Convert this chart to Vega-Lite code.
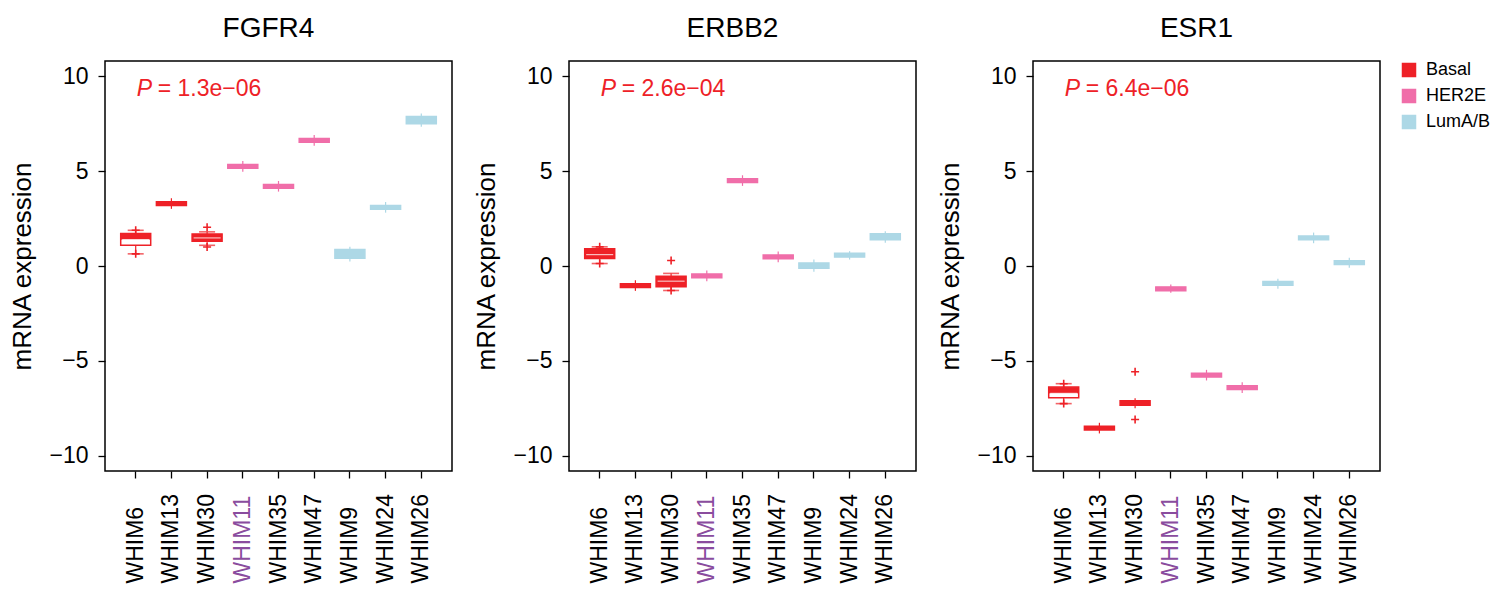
{
  "$schema": "https://vega.github.io/schema/vega-lite/v6.json",
  "padding": {"left": 9, "top": 14, "right": 5, "bottom": 5},
  "spacing": 20,
  "config": {
    "font": "Liberation Sans",
    "view": {"stroke": "black", "strokeWidth": 1.5},
    "axis": {"labelFont": "Liberation Sans", "titleFont": "Liberation Sans", "labelColor": "black", "titleColor": "black", "tickColor": "black", "tickWidth": 1.3, "domain": false, "grid": false},
    "title": {"fontSize": 28, "fontWeight": "normal", "font": "Liberation Sans", "offset": 18, "dx": -10, "baseline": "alphabetic", "color": "black"}
  },
  "datasets": {
    "boxes": [
      {"gene": "FGFR4", "sample": "WHIM6", "subtype": "Basal", "lo": 0.64, "q1": 1.09, "med": 1.39, "q3": 1.71, "hi": 1.88, "f1": 1.39, "f2": 1.71},
      {"gene": "FGFR4", "sample": "WHIM13", "subtype": "Basal", "lo": 3.01, "q1": 3.19, "med": 3.29, "q3": 3.39, "hi": 3.57, "f1": 3.19, "f2": 3.39},
      {"gene": "FGFR4", "sample": "WHIM30", "subtype": "Basal", "lo": 1.09, "q1": 1.31, "med": 1.48, "q3": 1.69, "hi": 1.8, "f1": 1.31, "f2": 1.69},
      {"gene": "FGFR4", "sample": "WHIM11", "subtype": "HER2E", "lo": 4.97, "q1": 5.15, "med": 5.25, "q3": 5.35, "hi": 5.53, "f1": 5.15, "f2": 5.35},
      {"gene": "FGFR4", "sample": "WHIM35", "subtype": "HER2E", "lo": 3.92, "q1": 4.1, "med": 4.2, "q3": 4.3, "hi": 4.48, "f1": 4.1, "f2": 4.3},
      {"gene": "FGFR4", "sample": "WHIM47", "subtype": "HER2E", "lo": 6.34, "q1": 6.52, "med": 6.62, "q3": 6.72, "hi": 6.9, "f1": 6.52, "f2": 6.72},
      {"gene": "FGFR4", "sample": "WHIM9", "subtype": "LumA/B", "lo": 0.24, "q1": 0.41, "med": 0.64, "q3": 0.87, "hi": 1.01, "f1": 0.41, "f2": 0.87},
      {"gene": "FGFR4", "sample": "WHIM24", "subtype": "LumA/B", "lo": 2.81, "q1": 2.99, "med": 3.09, "q3": 3.19, "hi": 3.37, "f1": 2.99, "f2": 3.19},
      {"gene": "FGFR4", "sample": "WHIM26", "subtype": "LumA/B", "lo": 7.33, "q1": 7.5, "med": 7.67, "q3": 7.88, "hi": 8.03, "f1": 7.5, "f2": 7.88},
      {"gene": "ERBB2", "sample": "WHIM6", "subtype": "Basal", "lo": 0.13, "q1": 0.39, "med": 0.6, "q3": 0.91, "hi": 1.01, "f1": 0.39, "f2": 0.91},
      {"gene": "ERBB2", "sample": "WHIM13", "subtype": "Basal", "lo": -1.31, "q1": -1.13, "med": -1.03, "q3": -0.93, "hi": -0.75, "f1": -1.13, "f2": -0.93},
      {"gene": "ERBB2", "sample": "WHIM30", "subtype": "Basal", "lo": -1.29, "q1": -1.09, "med": -0.8, "q3": -0.54, "hi": -0.39, "f1": -1.09, "f2": -0.54},
      {"gene": "ERBB2", "sample": "WHIM11", "subtype": "HER2E", "lo": -0.8, "q1": -0.62, "med": -0.52, "q3": -0.42, "hi": -0.24, "f1": -0.62, "f2": -0.42},
      {"gene": "ERBB2", "sample": "WHIM35", "subtype": "HER2E", "lo": 4.22, "q1": 4.4, "med": 4.5, "q3": 4.6, "hi": 4.78, "f1": 4.4, "f2": 4.6},
      {"gene": "ERBB2", "sample": "WHIM47", "subtype": "HER2E", "lo": 0.2, "q1": 0.38, "med": 0.48, "q3": 0.58, "hi": 0.76, "f1": 0.38, "f2": 0.58},
      {"gene": "ERBB2", "sample": "WHIM9", "subtype": "LumA/B", "lo": -0.3, "q1": -0.12, "med": 0.03, "q3": 0.16, "hi": 0.34, "f1": -0.12, "f2": 0.16},
      {"gene": "ERBB2", "sample": "WHIM24", "subtype": "LumA/B", "lo": 0.34, "q1": 0.47, "med": 0.57, "q3": 0.67, "hi": 0.78, "f1": 0.47, "f2": 0.67},
      {"gene": "ERBB2", "sample": "WHIM26", "subtype": "LumA/B", "lo": 1.22, "q1": 1.38, "med": 1.54, "q3": 1.7, "hi": 1.83, "f1": 1.38, "f2": 1.7},
      {"gene": "ESR1", "sample": "WHIM6", "subtype": "Basal", "lo": -7.25, "q1": -6.94, "med": -6.71, "q3": -6.38, "hi": -6.2, "f1": -6.71, "f2": -6.38},
      {"gene": "ESR1", "sample": "WHIM13", "subtype": "Basal", "lo": -8.82, "q1": -8.64, "med": -8.54, "q3": -8.44, "hi": -8.26, "f1": -8.64, "f2": -8.44},
      {"gene": "ESR1", "sample": "WHIM30", "subtype": "Basal", "lo": -7.5, "q1": -7.34, "med": -7.22, "q3": -7.1, "hi": -6.97, "f1": -7.34, "f2": -7.1},
      {"gene": "ESR1", "sample": "WHIM11", "subtype": "HER2E", "lo": -1.41, "q1": -1.3, "med": -1.2, "q3": -1.1, "hi": -0.97, "f1": -1.3, "f2": -1.1},
      {"gene": "ESR1", "sample": "WHIM35", "subtype": "HER2E", "lo": -6.03, "q1": -5.85, "med": -5.75, "q3": -5.65, "hi": -5.47, "f1": -5.85, "f2": -5.65},
      {"gene": "ESR1", "sample": "WHIM47", "subtype": "HER2E", "lo": -6.69, "q1": -6.51, "med": -6.41, "q3": -6.31, "hi": -6.13, "f1": -6.51, "f2": -6.31},
      {"gene": "ESR1", "sample": "WHIM9", "subtype": "LumA/B", "lo": -1.2, "q1": -1.02, "med": -0.92, "q3": -0.82, "hi": -0.67, "f1": -1.02, "f2": -0.82},
      {"gene": "ESR1", "sample": "WHIM24", "subtype": "LumA/B", "lo": 1.2, "q1": 1.38, "med": 1.48, "q3": 1.58, "hi": 1.76, "f1": 1.38, "f2": 1.58},
      {"gene": "ESR1", "sample": "WHIM26", "subtype": "LumA/B", "lo": -0.09, "q1": 0.08, "med": 0.18, "q3": 0.28, "hi": 0.43, "f1": 0.08, "f2": 0.28}
    ],
    "outliers": [
      {"gene": "FGFR4", "sample": "WHIM6", "subtype": "Basal", "value": 0.64},
      {"gene": "FGFR4", "sample": "WHIM6", "subtype": "Basal", "value": 1.88},
      {"gene": "FGFR4", "sample": "WHIM30", "subtype": "Basal", "value": 2.04},
      {"gene": "FGFR4", "sample": "WHIM30", "subtype": "Basal", "value": 1.0},
      {"gene": "ERBB2", "sample": "WHIM6", "subtype": "Basal", "value": 0.13},
      {"gene": "ERBB2", "sample": "WHIM6", "subtype": "Basal", "value": 1.01},
      {"gene": "ERBB2", "sample": "WHIM30", "subtype": "Basal", "value": 0.29},
      {"gene": "ERBB2", "sample": "WHIM30", "subtype": "Basal", "value": -1.29},
      {"gene": "ESR1", "sample": "WHIM6", "subtype": "Basal", "value": -7.25},
      {"gene": "ESR1", "sample": "WHIM6", "subtype": "Basal", "value": -6.2},
      {"gene": "ESR1", "sample": "WHIM30", "subtype": "Basal", "value": -5.57},
      {"gene": "ESR1", "sample": "WHIM30", "subtype": "Basal", "value": -8.09}
    ],
    "pvals": [
      {"gene": "FGFR4", "sample": "WHIM6", "y": 8.94, "rest": "= 1.3e−06"},
      {"gene": "ERBB2", "sample": "WHIM6", "y": 8.94, "rest": "= 2.6e−04"},
      {"gene": "ESR1", "sample": "WHIM6", "y": 8.94, "rest": "= 6.4e−06"}
    ]
  },
  "hconcat": [
    {
      "width": 347, "height": 410,
      "title": "FGFR4",
      "encoding": {
        "x": {"field": "sample", "type": "nominal", "scale": {"type": "band", "domain": ["WHIM6", "WHIM13", "WHIM30", "WHIM11", "WHIM35", "WHIM47", "WHIM9", "WHIM24", "WHIM26"], "paddingInner": 0, "paddingOuter": 0.36},
          "axis": {"title": null, "labelAngle": 270, "labelAlign": "left", "labelBaseline": "middle", "labelPadding": 105, "tickSize": 7, "labelFontSize": 23, "labelColor": {"condition": {"test": "datum.value == 'WHIM11'", "value": "#8A4C9E"}, "value": "black"}}},
        "color": {"field": "subtype", "type": "nominal", "scale": {"domain": ["Basal", "HER2E", "LumA/B"], "range": ["#EE2127", "#F06EA9", "#ADD8E6"]},
          "legend": {"title": null, "orient": "none", "legendX": 1295, "legendY": 0, "symbolType": "square", "symbolSize": 169, "labelFontSize": 18, "labelFont": "Liberation Sans", "labelColor": "black", "labelOffset": 8, "rowPadding": 6, "padding": 0,
            "encode": {"symbols": {"update": {"fill": {"scale": "color", "field": "value"}, "stroke": {"value": "transparent"}, "opacity": {"value": 1}}}}}}
      },
      "layer": [
        {"data": {"name": "boxes"}, "transform": [{"filter": "datum.gene == 'FGFR4'"}], "mark": {"type": "rule", "strokeWidth": 1.2},
          "encoding": {"y": {"field": "lo", "type": "quantitative", "scale": {"domain": [-10.8, 10.8], "nice": false, "zero": false},
            "axis": {"title": "mRNA expression", "values": [-10, -5, 0, 5, 10], "format": "d", "tickSize": 7, "labelPadding": 10, "labelFontSize": 23, "titleFontSize": 26, "titleFontWeight": "normal", "titlePadding": 13}},
            "y2": {"field": "hi"}}},
        {"data": {"name": "boxes"}, "transform": [{"filter": "datum.gene == 'FGFR4' && datum.subtype == 'Basal' && datum.q3 - datum.q1 > 0.3"}], "mark": {"type": "tick", "size": 16, "thickness": 1.6},
          "encoding": {"y": {"field": "lo", "type": "quantitative"}}},
        {"data": {"name": "boxes"}, "transform": [{"filter": "datum.gene == 'FGFR4' && datum.subtype == 'Basal' && datum.q3 - datum.q1 > 0.3"}], "mark": {"type": "tick", "size": 16, "thickness": 1.6},
          "encoding": {"y": {"field": "hi", "type": "quantitative"}}},
        {"data": {"name": "boxes"}, "transform": [{"filter": "datum.gene == 'FGFR4'"}], "mark": {"type": "bar", "size": 30, "filled": false, "fill": "white", "strokeWidth": 1.5},
          "encoding": {"y": {"field": "q1", "type": "quantitative"}, "y2": {"field": "q3"}}},
        {"data": {"name": "boxes"}, "transform": [{"filter": "datum.gene == 'FGFR4'"}], "mark": {"type": "bar", "size": 30},
          "encoding": {"y": {"field": "f1", "type": "quantitative"}, "y2": {"field": "f2"}}},
        {"data": {"name": "boxes"}, "transform": [{"filter": "datum.gene == 'FGFR4' && datum.subtype == 'Basal' && datum.q3 - datum.q1 > 0.3"}], "mark": {"type": "tick", "size": 27, "thickness": 1.2},
          "encoding": {"y": {"field": "med", "type": "quantitative"}, "color": {"value": "white"}}},
        {"data": {"name": "outliers"}, "transform": [{"filter": "datum.gene == 'FGFR4'"}], "mark": {"type": "point", "shape": "M-1,0L1,0M0,-1L0,1", "size": 64, "strokeWidth": 1.6, "filled": false, "opacity": 1},
          "encoding": {"y": {"field": "value", "type": "quantitative"}}},
        {"data": {"name": "pvals"}, "transform": [{"filter": "datum.gene == 'FGFR4'"}], "mark": {"type": "text", "text": "P", "fontStyle": "italic", "align": "left", "baseline": "alphabetic", "dx": 1, "fontSize": 23},
          "encoding": {"y": {"field": "y", "type": "quantitative"}, "color": {"value": "#EE2127"}}},
        {"data": {"name": "pvals"}, "transform": [{"filter": "datum.gene == 'FGFR4'"}], "mark": {"type": "text", "align": "left", "baseline": "alphabetic", "dx": 22, "fontSize": 23},
          "encoding": {"y": {"field": "y", "type": "quantitative"}, "text": {"field": "rest"}, "color": {"value": "#EE2127"}}}
      ]
    },
    {
      "width": 347, "height": 410,
      "title": "ERBB2",
      "encoding": {
        "x": {"field": "sample", "type": "nominal", "scale": {"type": "band", "domain": ["WHIM6", "WHIM13", "WHIM30", "WHIM11", "WHIM35", "WHIM47", "WHIM9", "WHIM24", "WHIM26"], "paddingInner": 0, "paddingOuter": 0.36},
          "axis": {"title": null, "labelAngle": 270, "labelAlign": "left", "labelBaseline": "middle", "labelPadding": 105, "tickSize": 7, "labelFontSize": 23, "labelColor": {"condition": {"test": "datum.value == 'WHIM11'", "value": "#8A4C9E"}, "value": "black"}}},
        "color": {"field": "subtype", "type": "nominal", "scale": {"domain": ["Basal", "HER2E", "LumA/B"], "range": ["#EE2127", "#F06EA9", "#ADD8E6"]},
          "legend": {"title": null, "orient": "none", "legendX": 1295, "legendY": 0, "symbolType": "square", "symbolSize": 169, "labelFontSize": 18, "labelFont": "Liberation Sans", "labelColor": "black", "labelOffset": 8, "rowPadding": 6, "padding": 0,
            "encode": {"symbols": {"update": {"fill": {"scale": "color", "field": "value"}, "stroke": {"value": "transparent"}, "opacity": {"value": 1}}}}}}
      },
      "layer": [
        {"data": {"name": "boxes"}, "transform": [{"filter": "datum.gene == 'ERBB2'"}], "mark": {"type": "rule", "strokeWidth": 1.2},
          "encoding": {"y": {"field": "lo", "type": "quantitative", "scale": {"domain": [-10.8, 10.8], "nice": false, "zero": false},
            "axis": {"title": "mRNA expression", "values": [-10, -5, 0, 5, 10], "format": "d", "tickSize": 7, "labelPadding": 10, "labelFontSize": 23, "titleFontSize": 26, "titleFontWeight": "normal", "titlePadding": 13}},
            "y2": {"field": "hi"}}},
        {"data": {"name": "boxes"}, "transform": [{"filter": "datum.gene == 'ERBB2' && datum.subtype == 'Basal' && datum.q3 - datum.q1 > 0.3"}], "mark": {"type": "tick", "size": 16, "thickness": 1.6},
          "encoding": {"y": {"field": "lo", "type": "quantitative"}}},
        {"data": {"name": "boxes"}, "transform": [{"filter": "datum.gene == 'ERBB2' && datum.subtype == 'Basal' && datum.q3 - datum.q1 > 0.3"}], "mark": {"type": "tick", "size": 16, "thickness": 1.6},
          "encoding": {"y": {"field": "hi", "type": "quantitative"}}},
        {"data": {"name": "boxes"}, "transform": [{"filter": "datum.gene == 'ERBB2'"}], "mark": {"type": "bar", "size": 30, "filled": false, "fill": "white", "strokeWidth": 1.5},
          "encoding": {"y": {"field": "q1", "type": "quantitative"}, "y2": {"field": "q3"}}},
        {"data": {"name": "boxes"}, "transform": [{"filter": "datum.gene == 'ERBB2'"}], "mark": {"type": "bar", "size": 30},
          "encoding": {"y": {"field": "f1", "type": "quantitative"}, "y2": {"field": "f2"}}},
        {"data": {"name": "boxes"}, "transform": [{"filter": "datum.gene == 'ERBB2' && datum.subtype == 'Basal' && datum.q3 - datum.q1 > 0.3"}], "mark": {"type": "tick", "size": 27, "thickness": 1.2},
          "encoding": {"y": {"field": "med", "type": "quantitative"}, "color": {"value": "white"}}},
        {"data": {"name": "outliers"}, "transform": [{"filter": "datum.gene == 'ERBB2'"}], "mark": {"type": "point", "shape": "M-1,0L1,0M0,-1L0,1", "size": 64, "strokeWidth": 1.6, "filled": false, "opacity": 1},
          "encoding": {"y": {"field": "value", "type": "quantitative"}}},
        {"data": {"name": "pvals"}, "transform": [{"filter": "datum.gene == 'ERBB2'"}], "mark": {"type": "text", "text": "P", "fontStyle": "italic", "align": "left", "baseline": "alphabetic", "dx": 1, "fontSize": 23},
          "encoding": {"y": {"field": "y", "type": "quantitative"}, "color": {"value": "#EE2127"}}},
        {"data": {"name": "pvals"}, "transform": [{"filter": "datum.gene == 'ERBB2'"}], "mark": {"type": "text", "align": "left", "baseline": "alphabetic", "dx": 22, "fontSize": 23},
          "encoding": {"y": {"field": "y", "type": "quantitative"}, "text": {"field": "rest"}, "color": {"value": "#EE2127"}}}
      ]
    },
    {
      "width": 347, "height": 410,
      "title": "ESR1",
      "encoding": {
        "x": {"field": "sample", "type": "nominal", "scale": {"type": "band", "domain": ["WHIM6", "WHIM13", "WHIM30", "WHIM11", "WHIM35", "WHIM47", "WHIM9", "WHIM24", "WHIM26"], "paddingInner": 0, "paddingOuter": 0.36},
          "axis": {"title": null, "labelAngle": 270, "labelAlign": "left", "labelBaseline": "middle", "labelPadding": 105, "tickSize": 7, "labelFontSize": 23, "labelColor": {"condition": {"test": "datum.value == 'WHIM11'", "value": "#8A4C9E"}, "value": "black"}}},
        "color": {"field": "subtype", "type": "nominal", "scale": {"domain": ["Basal", "HER2E", "LumA/B"], "range": ["#EE2127", "#F06EA9", "#ADD8E6"]},
          "legend": {"title": null, "orient": "none", "legendX": 1295, "legendY": 0, "symbolType": "square", "symbolSize": 169, "labelFontSize": 18, "labelFont": "Liberation Sans", "labelColor": "black", "labelOffset": 8, "rowPadding": 6, "padding": 0,
            "encode": {"symbols": {"update": {"fill": {"scale": "color", "field": "value"}, "stroke": {"value": "transparent"}, "opacity": {"value": 1}}}}}}
      },
      "layer": [
        {"data": {"name": "boxes"}, "transform": [{"filter": "datum.gene == 'ESR1'"}], "mark": {"type": "rule", "strokeWidth": 1.2},
          "encoding": {"y": {"field": "lo", "type": "quantitative", "scale": {"domain": [-10.8, 10.8], "nice": false, "zero": false},
            "axis": {"title": "mRNA expression", "values": [-10, -5, 0, 5, 10], "format": "d", "tickSize": 7, "labelPadding": 10, "labelFontSize": 23, "titleFontSize": 26, "titleFontWeight": "normal", "titlePadding": 13}},
            "y2": {"field": "hi"}}},
        {"data": {"name": "boxes"}, "transform": [{"filter": "datum.gene == 'ESR1' && datum.subtype == 'Basal' && datum.q3 - datum.q1 > 0.3"}], "mark": {"type": "tick", "size": 16, "thickness": 1.6},
          "encoding": {"y": {"field": "lo", "type": "quantitative"}}},
        {"data": {"name": "boxes"}, "transform": [{"filter": "datum.gene == 'ESR1' && datum.subtype == 'Basal' && datum.q3 - datum.q1 > 0.3"}], "mark": {"type": "tick", "size": 16, "thickness": 1.6},
          "encoding": {"y": {"field": "hi", "type": "quantitative"}}},
        {"data": {"name": "boxes"}, "transform": [{"filter": "datum.gene == 'ESR1'"}], "mark": {"type": "bar", "size": 30, "filled": false, "fill": "white", "strokeWidth": 1.5},
          "encoding": {"y": {"field": "q1", "type": "quantitative"}, "y2": {"field": "q3"}}},
        {"data": {"name": "boxes"}, "transform": [{"filter": "datum.gene == 'ESR1'"}], "mark": {"type": "bar", "size": 30},
          "encoding": {"y": {"field": "f1", "type": "quantitative"}, "y2": {"field": "f2"}}},
        {"data": {"name": "boxes"}, "transform": [{"filter": "datum.gene == 'ESR1' && datum.subtype == 'Basal' && datum.q3 - datum.q1 > 0.3"}], "mark": {"type": "tick", "size": 27, "thickness": 1.2},
          "encoding": {"y": {"field": "med", "type": "quantitative"}, "color": {"value": "white"}}},
        {"data": {"name": "outliers"}, "transform": [{"filter": "datum.gene == 'ESR1'"}], "mark": {"type": "point", "shape": "M-1,0L1,0M0,-1L0,1", "size": 64, "strokeWidth": 1.6, "filled": false, "opacity": 1},
          "encoding": {"y": {"field": "value", "type": "quantitative"}}},
        {"data": {"name": "pvals"}, "transform": [{"filter": "datum.gene == 'ESR1'"}], "mark": {"type": "text", "text": "P", "fontStyle": "italic", "align": "left", "baseline": "alphabetic", "dx": 1, "fontSize": 23},
          "encoding": {"y": {"field": "y", "type": "quantitative"}, "color": {"value": "#EE2127"}}},
        {"data": {"name": "pvals"}, "transform": [{"filter": "datum.gene == 'ESR1'"}], "mark": {"type": "text", "align": "left", "baseline": "alphabetic", "dx": 22, "fontSize": 23},
          "encoding": {"y": {"field": "y", "type": "quantitative"}, "text": {"field": "rest"}, "color": {"value": "#EE2127"}}}
      ]
    }
  ]
}
